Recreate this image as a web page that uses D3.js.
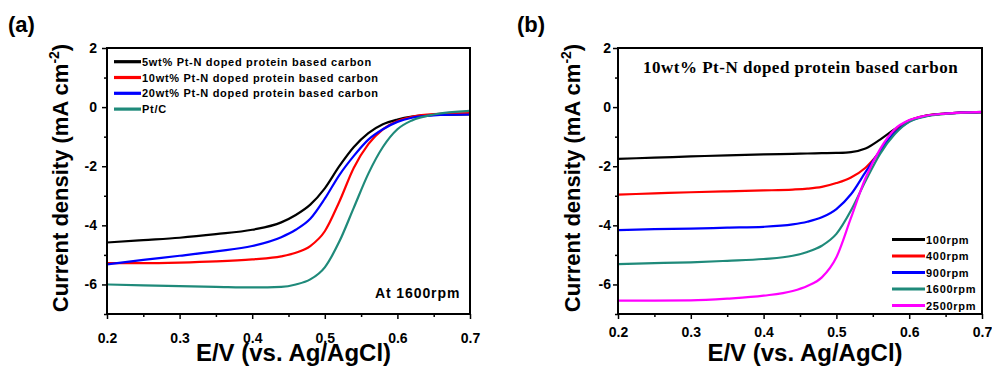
<!DOCTYPE html>
<html>
<head>
<meta charset="utf-8">
<script src="https://cdn.jsdelivr.net/npm/d3@7"></script>
<style>
  html, body { margin: 0; padding: 0; background: #fff; }
  svg { display: block; }
  text { font-family: "Liberation Sans", Arial, sans-serif; font-weight: bold; fill: #000; }
</style>
</head>
<body>
<svg id="chart" width="992" height="370"></svg>
<script>
// Potential axis samples (V vs. Ag/AgCl)
const potentialA = [0.20, 0.25, 0.30, 0.35, 0.40, 0.44, 0.46, 0.48, 0.50, 0.52, 0.54, 0.56, 0.58, 0.60, 0.62, 0.65, 0.70];
const potentialB = [0.20, 0.25, 0.30, 0.35, 0.40, 0.44, 0.46, 0.48, 0.50, 0.52, 0.54, 0.56, 0.58, 0.60, 0.62, 0.65, 0.70];

// Panel (a): catalysts at 1600 rpm, current density mA cm-2
const pt5 =  [-4.58, -4.50, -4.42, -4.30, -4.15, -3.90, -3.65, -3.30, -2.75, -2.00, -1.35, -0.88, -0.58, -0.42, -0.32, -0.26, -0.25];
const pt10 = [-5.28, -5.28, -5.26, -5.22, -5.15, -5.05, -4.93, -4.70, -4.20, -3.20, -2.05, -1.25, -0.75, -0.47, -0.33, -0.24, -0.20];
const pt20 = [-5.32, -5.17, -5.03, -4.88, -4.70, -4.40, -4.15, -3.78, -3.10, -2.30, -1.65, -1.10, -0.75, -0.50, -0.36, -0.28, -0.25];
const ptC =  [-6.00, -6.03, -6.06, -6.08, -6.10, -6.08, -6.00, -5.83, -5.42, -4.55, -3.40, -2.25, -1.35, -0.75, -0.45, -0.25, -0.13];

// Panel (b): 10wt% catalyst at different rotation rates
const rpm100 =  [-1.75, -1.71, -1.67, -1.63, -1.60, -1.58, -1.57, -1.56, -1.55, -1.52, -1.40, -1.10, -0.75, -0.45, -0.30, -0.22, -0.17];
const rpm400 =  [-2.96, -2.92, -2.88, -2.85, -2.82, -2.79, -2.76, -2.70, -2.57, -2.38, -2.05, -1.50, -0.85, -0.47, -0.31, -0.22, -0.17];
const rpm900 =  [-4.16, -4.13, -4.11, -4.08, -4.05, -3.97, -3.88, -3.73, -3.45, -2.95, -2.20, -1.47, -0.87, -0.49, -0.32, -0.22, -0.17];
const rpm1600 = [-5.31, -5.28, -5.25, -5.20, -5.14, -5.03, -4.90, -4.69, -4.29, -3.50, -2.50, -1.58, -0.92, -0.50, -0.33, -0.23, -0.16];
const rpm2500 = [-6.55, -6.55, -6.54, -6.48, -6.38, -6.22, -6.05, -5.76, -5.08, -3.75, -2.40, -1.42, -0.75, -0.44, -0.30, -0.22, -0.16];

const xTicks = [0.2, 0.3, 0.4, 0.5, 0.6, 0.7];
const yTicks = [2, 0, -2, -4, -6];

const seriesA = [
  { name: '5wt% Pt-N doped protein based carbon', values: pt5, color: '#000000' },
  { name: '10wt% Pt-N doped protein based carbon', values: pt10, color: '#ff0000' },
  { name: '20wt% Pt-N doped protein based carbon', values: pt20, color: '#0000ff' },
  { name: 'Pt/C', values: ptC, color: '#1f8a7a' }
];
const seriesB = [
  { name: '100rpm', values: rpm100, color: '#000000' },
  { name: '400rpm', values: rpm400, color: '#ff0000' },
  { name: '900rpm', values: rpm900, color: '#0000ff' },
  { name: '1600rpm', values: rpm1600, color: '#1f8a7a' },
  { name: '2500rpm', values: rpm2500, color: '#ff00ff' }
];

const svg = d3.select('#chart');

function drawPanel(opts) {
  const x = d3.scaleLinear().domain([0.2, 0.7]).range([opts.left, opts.right]);
  const y = d3.scaleLinear().domain([-7, 2]).range([314, 48]);
  const g = svg.append('g');

  // curves
  const line = d3.line()
    .x(function(d) { return x(d[0]); })
    .y(function(d) { return y(d[1]); })
    .curve(d3.curveMonotoneX);
  opts.series.forEach(function(s) {
    g.append('path')
      .datum(opts.potential.map(function(p, i) { return [p, s.values[i]]; }))
      .attr('d', line)
      .attr('fill', 'none')
      .attr('stroke', s.color)
      .attr('stroke-width', 2.2);
  });

  // minor ticks
  const xMinor = d3.axisBottom(x).tickValues(d3.range(0.25, 0.7, 0.1)).tickSize(3).tickFormat('');
  const yMinor = d3.axisLeft(y).tickValues([1, -1, -3, -5, -7]).tickSize(3).tickFormat('');
  g.append('g').attr('transform', 'translate(0,314)').call(xMinor);
  g.append('g').attr('transform', 'translate(' + opts.left + ',0)').call(yMinor);

  // major axes
  const xAxis = d3.axisBottom(x).tickValues(xTicks).tickSize(5).tickPadding(opts.xPad)
    .tickFormat(d3.format('.1f'));
  const yAxis = d3.axisLeft(y).tickValues(yTicks).tickSize(5).tickPadding(opts.yPad)
    .tickFormat(function(d) { return d; });
  g.append('g').attr('transform', 'translate(0,314)').call(xAxis);
  g.append('g').attr('transform', 'translate(' + opts.left + ',0)').call(yAxis);

  g.selectAll('.tick line').attr('stroke', '#000').attr('stroke-width', 1.5);
  g.selectAll('.domain').remove();
  g.selectAll('.tick text').style('font-size', '14px').style('font-family', '"Liberation Sans", Arial, sans-serif').style('font-weight', 'bold');

  // frame
  g.append('rect')
    .attr('x', opts.left).attr('y', 48)
    .attr('width', opts.right - opts.left).attr('height', 314 - 48)
    .attr('fill', 'none').attr('stroke', '#000').attr('stroke-width', 2);

  // axis titles
  g.append('text')
    .attr('x', (opts.left + opts.right) / 2 + 5).attr('y', 361)
    .attr('text-anchor', 'middle')
    .style('font-size', '24px')
    .text('E/V (vs. Ag/AgCl)');

  const yt = g.append('text')
    .attr('transform', 'translate(' + opts.yTitleX + ',178) rotate(-90)')
    .attr('text-anchor', 'middle')
    .style('font-size', '22px');
  yt.append('tspan').text('Current density (mA cm');
  yt.append('tspan').attr('dy', -9).style('font-size', '14px').text('-2');
  yt.append('tspan').attr('dy', 9).text(')');

  // panel letter
  g.append('text')
    .attr('x', opts.letterX).attr('y', 32)
    .style('font-size', '22px')
    .text(opts.letter);

  return g;
}

// Panel (a)
const gA = drawPanel({
  left: 107, right: 470, series: seriesA, potential: potentialA,
  xPad: 14, yPad: 5, yTitleX: 68, letterX: 8, letter: '(a)'
});

const legA = gA.append('g');
seriesA.forEach(function(s, i) {
  const yy = 61.7 + i * 15.8;
  legA.append('line')
    .attr('x1', 114).attr('x2', 141).attr('y1', yy).attr('y2', yy)
    .attr('stroke', s.color).attr('stroke-width', 3.2);
  legA.append('text')
    .attr('x', 142).attr('y', yy)
    .attr('dominant-baseline', 'central')
    .style('font-size', '11px')
    .style('letter-spacing', '0.7px')
    .text(s.name);
});

gA.append('text')
  .attr('x', 375).attr('y', 298)
  .style('font-size', '14px')
  .style('letter-spacing', '0.9px')
  .text('At 1600rpm');

// Panel (b)
const gB = drawPanel({
  left: 618, right: 982, series: seriesB, potential: potentialB,
  xPad: 8, yPad: 2, yTitleX: 580, letterX: 517, letter: '(b)'
});

gB.append('text')
  .attr('x', 643).attr('y', 73)
  .style('font-family', '"Liberation Serif", "Times New Roman", serif')
  .style('font-size', '17px')
  .style('letter-spacing', '0.5px')
  .text('10wt% Pt-N doped protein based carbon');

const legB = gB.append('g');
seriesB.forEach(function(s, i) {
  const yy = 239.5 + i * 16.5;
  legB.append('line')
    .attr('x1', 892).attr('x2', 925).attr('y1', yy).attr('y2', yy)
    .attr('stroke', s.color).attr('stroke-width', 3.2);
  legB.append('text')
    .attr('x', 926).attr('y', yy)
    .attr('dominant-baseline', 'central')
    .style('font-size', '11px')
    .style('letter-spacing', '0.7px')
    .text(s.name);
});
</script>
</body>
</html>
